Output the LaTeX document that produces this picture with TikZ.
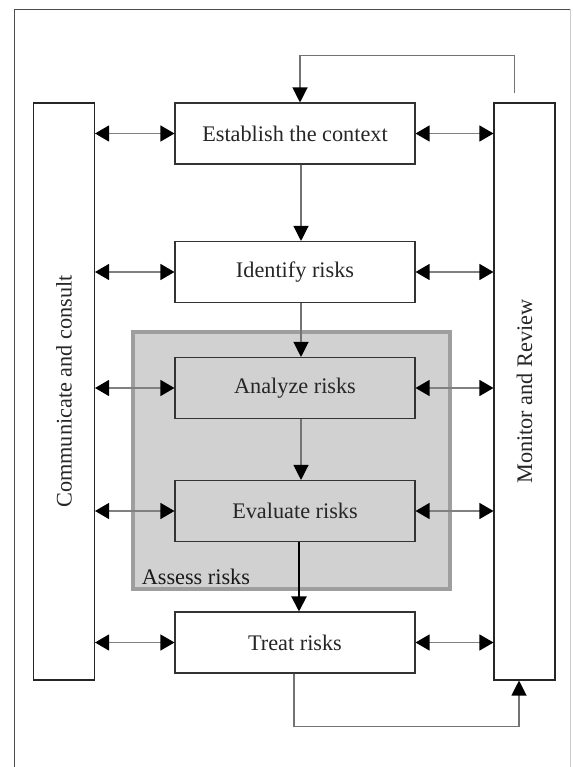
\documentclass[tikz,border=0pt]{standalone}
\usepackage{fontspec}
\setmainfont{Liberation Serif}
\usetikzlibrary{arrows.meta}

\begin{document}
\begin{tikzpicture}[x=0.03cm,y=-0.03cm]
		\tikzstyle{stage}=[draw=black!80,line width=0.9pt,fill=white,minimum width=7.2cm,minimum height=1.83cm,inner sep=0pt,font=\fontsize{19}{22}\selectfont,text=black!85]
		\tikzstyle{side}=[draw=black!85,line width=0.9pt,fill=white,minimum width=1.83cm,minimum height=17.31cm,inner sep=0pt,font=\fontsize{19}{22}\selectfont,text=black!85]
		\tikzstyle{assess}=[draw=black!38,line width=3.4pt,fill=black!18,minimum width=9.51cm,minimum height=7.71cm,inner sep=0pt]
		\tikzstyle{link}=[{Triangle[length=0.42cm,width=0.48cm,color=black]}-{Triangle[length=0.42cm,width=0.48cm,color=black]},draw=black!50,line width=1pt]
		\tikzstyle{flow}=[-{Triangle[length=0.45cm,width=0.45cm,color=black]},draw=black!55,line width=1pt]

		\useasboundingbox (0,0) rectangle (573,767);
		\draw[black!70,line width=0.8pt] (14,767) -- (14,9) -- (570,9);
		\draw[black!20,line width=0.8pt] (570,9) -- (570,767);

		\node[assess](assess) at (291.5,460.5){};
		\node[anchor=base west,font=\fontsize{19}{22}\selectfont,text=black!90](assesslbl) at ([xshift=0.2cm,yshift=0.2cm]assess.south west){Assess risks};

		\node[side](comm) at (64,391.5){\rotatebox{90}{Communicate and consult}};
		\node[side](monitor) at (524.5,391.5){\rotatebox{90}{Monitor and Review}};

		\node[stage](est) at (295,133.5){Establish the context};
		\node[stage](ident) at (295,272){Identify risks};
		\node[stage,fill=black!18](analyze) at (295,388){Analyze risks};
		\node[stage,fill=black!18](evaluate) at (295,511){Evaluate risks};
		\node[stage](treat) at (295,642.5){Treat risks};

		\draw[flow] ([xshift=0.18cm]est.south) -- ([xshift=0.18cm]ident.north);
		\draw[flow] ([xshift=0.18cm]ident.south) -- ([xshift=0.18cm]analyze.north);
		\draw[flow] ([xshift=0.18cm]analyze.south) -- ([xshift=0.18cm]evaluate.north);
		\draw[flow,draw=black,line width=1.8pt] ([xshift=0.12cm]evaluate.south) -- ([xshift=0.12cm]treat.north);

		\draw[flow] ([xshift=-0.3cm,yshift=0.27cm]monitor.north) -- ++(0,-38) -| ([xshift=0.15cm]est.north);
		\draw[flow] ([xshift=-0.03cm]treat.south) -- ++(0,53) -| ([xshift=-0.165cm]monitor.south);

		\draw[link] (est.west -| comm.east) -- (est.west);
		\draw[link] (ident.west -| comm.east) -- (ident.west);
		\draw[link] (analyze.west -| comm.east) -- (analyze.west);
		\draw[link] (evaluate.west -| comm.east) -- (evaluate.west);
		\draw[link] (treat.west -| comm.east) -- (treat.west);

		\draw[link] (est.east) -- (est.east -| monitor.west);
		\draw[link] (ident.east) -- (ident.east -| monitor.west);
		\draw[link] (analyze.east) -- (analyze.east -| monitor.west);
		\draw[link] (evaluate.east) -- (evaluate.east -| monitor.west);
		\draw[link] (treat.east) -- (treat.east -| monitor.west);
	\end{tikzpicture}
\end{document}
